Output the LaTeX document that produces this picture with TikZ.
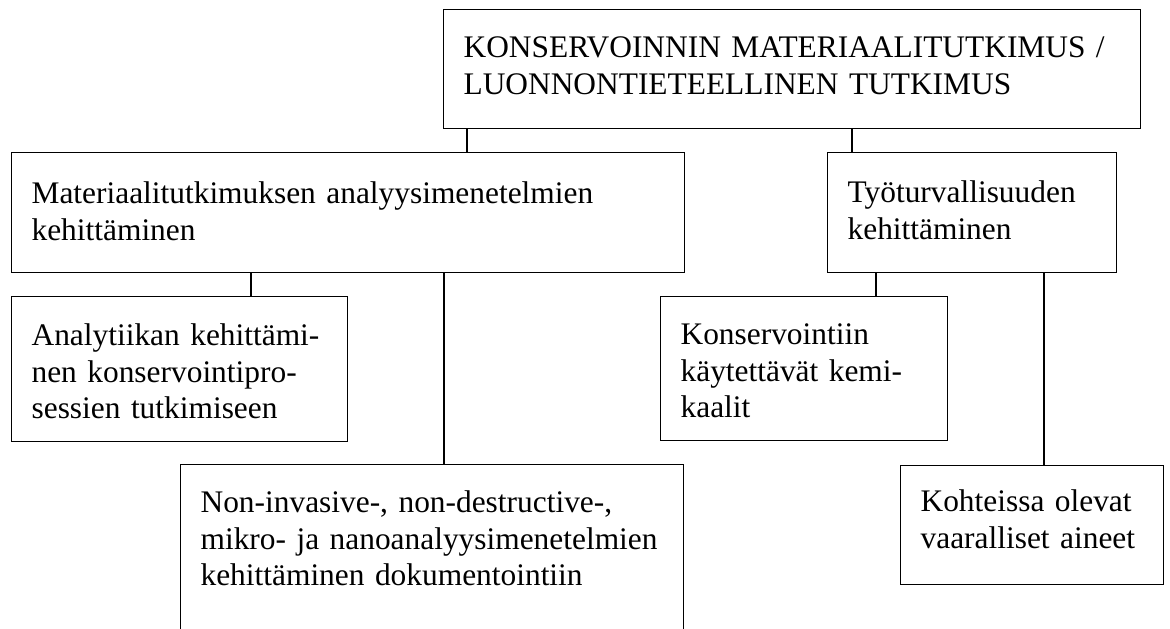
\documentclass[tikz,border=0pt]{standalone}
\usepackage{fontspec}
\setmainfont{Liberation Serif}

\tikzset{
  box/.style={draw, line width=0.6pt, anchor=north west, align=left,
    inner xsep=10pt, inner ysep=0pt, font=\fontsize{15.7}{18.3}\selectfont},
  link/.style={draw, line width=0.9pt}
}

\begin{document}
\begin{tikzpicture}[x=0.5pt, y=-0.5pt]
   \useasboundingbox (0,0) rectangle (1170,628);

   \node[box, text width=328.5pt, text height=24pt, text depth=35.5pt] (kons) at (443,9)
      {KONSERVOINNIN MATERIAALITUTKIMUS /\\LUONNONTIETEELLINEN TUTKIMUS};
   \node[box, text width=316.5pt, text height=25.5pt, text depth=34.5pt] (mat) at (11,152)
      {Materiaalitutkimuksen analyysimenetelmien\\kehittäminen};
   \node[box, text width=124.5pt, text height=25pt, text depth=35pt] (tyo) at (827,152)
      {Työturvallisuuden\\kehittäminen};
   \node[box, text width=148pt, text height=24.5pt, text depth=48pt] (ana) at (11,296)
      {Analytiikan kehittämi-\\nen konservointipro-\\sessien tutkimiseen};
   \node[box, text width=123.5pt, text height=24pt, text depth=48pt] (kem) at (660,296)
      {Konservointiin\\käytettävät kemi-\\kaalit};
   \node[box, text width=231.5pt, text height=24pt, text depth=74pt] (non) at (180,464)
      {Non-invasive-, non-destructive-,\\mikro- ja nanoanalyysimenetelmien\\kehittäminen dokumentointiin};
   \node[box, text width=111.5pt, text height=23pt, text depth=36.5pt] (koh) at (900,465)
      {Kohteissa olevat\\vaaralliset aineet};

   \draw[link] ([xshift=12pt]kons.south west) coordinate (k1) -- (k1 |- mat.north);
   \draw[link] ([xshift=204.5pt]kons.south west) coordinate (k2) -- (k2 |- tyo.north);
   \draw[link] ([xshift=120pt]mat.south west) coordinate (m1) -- (m1 |- ana.north);
   \draw[link] ([xshift=216.5pt]mat.south west) coordinate (m2) -- (m2 |- non.north);
   \draw[link] ([xshift=24.5pt]tyo.south west) coordinate (t1) -- (t1 |- kem.north);
   \draw[link] ([xshift=108.5pt]tyo.south west) coordinate (t2) -- (t2 |- koh.north);
\end{tikzpicture}
\end{document}
